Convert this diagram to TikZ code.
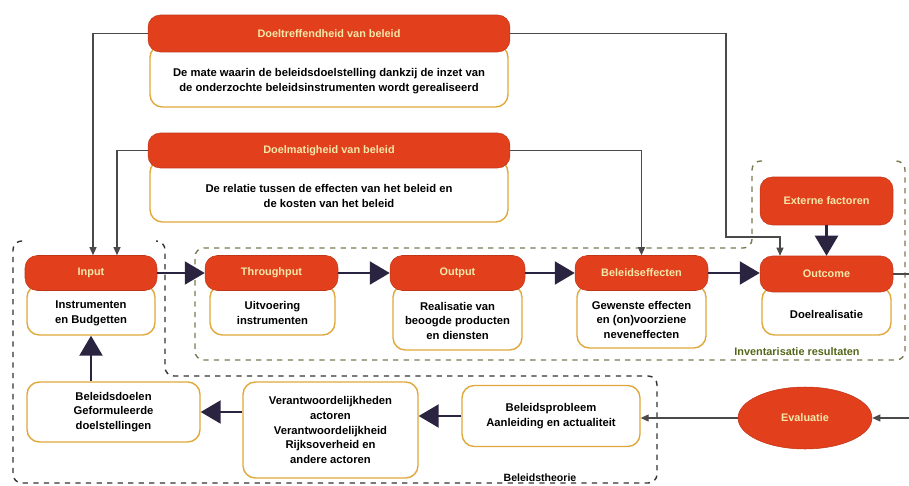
\documentclass[tikz,border=0pt]{standalone}
\usepackage{fontspec}
\setmainfont{Liberation Sans}
\usetikzlibrary{arrows.meta,shapes.geometric}
\definecolor{kopRood}{HTML}{E2401D}
\definecolor{kopTekst}{HTML}{F4E8A8}
\definecolor{randGoud}{HTML}{E0A83A}
\definecolor{pijlDonker}{HTML}{2B2440}
\definecolor{lijnGrijs}{HTML}{4A4A4A}
\definecolor{invKleur}{HTML}{7A7A52}
\definecolor{invTekst}{HTML}{55661A}
\begin{document}
\begin{tikzpicture}[x=0.02cm,y=-0.02cm,
		kop/.style={fill=kopRood,draw=kopRood!85!black,line width=0.3pt,rounded corners=7pt,text=kopTekst,font=\fontsize{6.2}{7.5}\selectfont\bfseries,inner sep=0pt},
		wit/.style={fill=white,draw=randGoud,line width=0.8pt,rounded corners=7pt,align=center,font=\fontsize{6.4}{8.3}\selectfont\bfseries,inner sep=0pt},
		grootpijl/.style={draw=pijlDonker,line width=1.3pt,-{Triangle[width=0.46cm,length=0.4cm]}},
		dunpijl/.style={draw=lijnGrijs,line width=0.6pt,-{Triangle[width=0.14cm,length=0.16cm]}},
		theorie/.style={draw=black!80,dashed,line width=0.8pt,rounded corners=5pt},
		inventaris/.style={draw=invKleur,dashed,line width=0.8pt,rounded corners=5pt}]
	\useasboundingbox (0,0) rectangle (909,486);
	% begrenzingen
	\draw[theorie] (22,241) -- (13,241) -- (13,483) -- (657,483) -- (657,376) -- (165,376) -- (165,241) -- (156,241);
	\draw[inventaris] (762,161) -- (752,161) -- (752,248) -- (195,248) -- (195,360) -- (905,360) -- (905,161) -- (895,161);
	\node[text=invTekst,font=\fontsize{6.2}{7}\selectfont\bfseries] (invlabel) at (797,352) {Inventarisatie resultaten};
	\node[font=\fontsize{6}{7}\selectfont\bfseries] (theorielabel) at (540,478) {Beleidstheorie};
	% witte vakken
	\node[wit,minimum width=7.16cm,minimum height=1.24cm] (doel1wit) at (329,76) {\\[2pt]De mate waarin de beleidsdoelstelling dankzij de inzet van\\de onderzochte beleidsinstrumenten wordt gerealiseerd};
	\node[wit,minimum width=7.16cm,minimum height=1.24cm] (doel2wit) at (329,191) {\\[2pt]De relatie tussen de effecten van het beleid en\\de kosten van het beleid};
	\node[wit,minimum width=2.56cm,minimum height=1.0cm] (inwit) at (91,310) {\\[0pt]Instrumenten\\en Budgetten};
	\node[wit,minimum width=2.5cm,minimum height=1.0cm] (throughwit) at (272.5,310) {\\[0pt]Uitvoering\\instrumenten};
	\node[wit,minimum width=2.58cm,minimum height=1.3cm] (outwit) at (457.5,317.5) {\\[0pt]Realisatie van\\beoogde producten\\en diensten};
	\node[wit,minimum width=2.58cm,minimum height=1.26cm] (effwit) at (641.5,316.5) {\\[0pt]Gewenste effecten\\en (on)voorziene\\neveneffecten};
	\node[wit,minimum width=2.58cm,minimum height=0.96cm] (outcomewit) at (826.5,311) {\\[0pt]Doelrealisatie};
	% rode koppen
	\node[kop,minimum width=7.24cm,minimum height=0.74cm] (doel1) at (329,33.5) {Doeltreffendheid van beleid};
	\node[kop,minimum width=7.24cm,minimum height=0.7cm] (doel2) at (329,150.5) {Doelmatigheid van beleid};
	\node[kop,minimum width=2.64cm,minimum height=0.7cm] (input) at (91,273) {Input};
	\node[kop,minimum width=2.66cm,minimum height=0.7cm] (through) at (271.5,273) {Throughput};
	\node[kop,minimum width=2.7cm,minimum height=0.7cm] (output) at (457.5,273) {Output};
	\node[kop,minimum width=2.66cm,minimum height=0.7cm] (beleff) at (641.5,273) {Beleidseffecten};
	\node[kop,minimum width=2.66cm,minimum height=0.72cm] (outcome) at (826.5,274) {Outcome};
	\node[kop,minimum width=2.66cm,minimum height=0.96cm] (extf) at (826.5,201) {Externe factoren};
	% beleidstheorie
	\node[wit,minimum width=3.46cm,minimum height=1.2cm] (doelen) at (113.5,412) {Beleidsdoelen\\Geformuleerde\\doelstellingen};
	\node[wit,minimum width=3.5cm,minimum height=1.92cm] (verant) at (330.5,430) {Verantwoordelijkheden\\actoren\\Verantwoordelijkheid\\Rijksoverheid en\\andere actoren};
	\node[wit,minimum width=3.56cm,minimum height=1.22cm] (probleem) at (551,416) {Beleidsprobleem\\Aanleiding en actualiteit};
	\node[ellipse,fill=kopRood,draw=kopRood!85!black,line width=0.3pt,minimum width=2.68cm,minimum height=1.24cm,text=kopTekst,font=\fontsize{6.2}{7.5}\selectfont\bfseries] (eval) at (805,418) {Evaluatie};
	\coordinate (knik) at (726,237);
	\coordinate (rechtsboven) at (909,274);
	\coordinate (rechtsonder) at (909,418);
	% verbindingen
	\draw[dunpijl] (doel1.west) -| ([xshift=0.04cm]input.north);
	\draw[dunpijl] (doel2.west) -| ([xshift=0.52cm]input.north);
	\draw[dunpijl] (doel2.east) -| (beleff.north);
	\draw[dunpijl] (doel1.east) -| (knik) -| ([xshift=-0.93cm]outcome.north);
	\draw[grootpijl] (input.east) -- (through.west);
	\draw[grootpijl] (through.east) -- (output.west);
	\draw[grootpijl] (output.east) -- (beleff.west);
	\draw[grootpijl] (beleff.east) -- (beleff.east -| outcome.west);
	\draw[grootpijl] (extf.south) -- (outcome.north);
	\draw[draw=lijnGrijs,line width=0.8pt] (outcome.east) -- (rechtsboven);
	\draw[dunpijl] (rechtsonder) -- (eval.east);
	\draw[dunpijl] (eval.west) -- (eval.west -| probleem.east);
	\draw[grootpijl] (probleem.west) -- (verant.east |- probleem.west);
	\draw[grootpijl] (verant.west |- doelen.east) -- (doelen.east);
	\draw[grootpijl] (doelen.north -| inwit.south) -- (inwit.south);
\end{tikzpicture}
\end{document}
